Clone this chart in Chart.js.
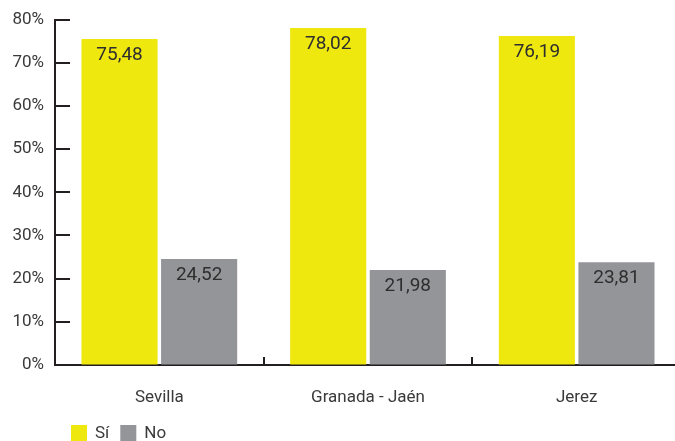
<!DOCTYPE html>
<html>
<head>
<meta charset="utf-8">
<script src="https://cdn.jsdelivr.net/npm/chart.js@4/dist/chart.umd.min.js"></script>
<style>
  html, body { margin: 0; padding: 0; background: #fff; overflow: hidden; width: 675px; height: 441px; }
  #wrap { position: relative; width: 681px; height: 441px; }
</style>
</head>
<body>
<div id="wrap"><canvas id="c"></canvas></div>
<script>
// Survey answers by centre (percent)
const categories = ['Sevilla', 'Granada - Jaén', 'Jerez'];
const seriesNames = ['Sí', 'No'];
const siValues = [75.48, 78.02, 76.19];
const noValues = [24.52, 21.98, 23.81];
const yTicks = [0, 10, 20, 30, 40, 50, 60, 70, 80];

const FONT = "Roboto, 'Liberation Sans', sans-serif";
const WEIGHT = 400;
const TEXT = '#3a3a3a';
const AXIS = '#231f20';
const YELLOW = '#efe80e';
const GREY = '#939598';

// Inward tick marks on both axes
const axisTicks = {
  id: 'axisTicks',
  afterDraw(chart) {
    const { ctx, scales: { x, y } } = chart;
    ctx.save();
    ctx.strokeStyle = AXIS;
    ctx.lineWidth = 2;
    ctx.beginPath();
    yTicks.forEach(v => {
      const py = Math.round(y.getPixelForValue(v));
      ctx.moveTo(x.left, py);
      ctx.lineTo(x.left + 15, py);
    });
    const half = (x.getPixelForValue(1) - x.getPixelForValue(0)) / 2;
    for (let i = 1; i <= categories.length; i++) {
      const px = Math.round(x.getPixelForValue(i) - half);
      ctx.moveTo(px, y.bottom);
      ctx.lineTo(px, y.bottom - 8);
    }
    ctx.stroke();
    ctx.restore();
  }
};

// Value printed inside the top of each bar
const barValues = {
  id: 'barValues',
  afterDatasetsDraw(chart) {
    const { ctx } = chart;
    ctx.save();
    ctx.font = WEIGHT + ' 19px ' + FONT;
    ctx.fillStyle = '#2e2e2e';
    ctx.textAlign = 'center';
    ctx.textBaseline = 'middle';
    chart.data.datasets.forEach((ds, di) => {
      chart.getDatasetMeta(di).data.forEach((bar, i) => {
        const txt = ds.data[i].toFixed(2).replace('.', ',');
        ctx.fillText(txt, bar.x, bar.y + 16);
      });
    });
    ctx.restore();
  }
};

// Legend below the axis labels
const bottomLegend = {
  id: 'bottomLegend',
  afterDraw(chart) {
    const { ctx } = chart;
    ctx.save();
    ctx.font = WEIGHT + ' 17px ' + FONT;
    ctx.textBaseline = 'middle';
    let cx = 71;
    const top = 425, size = 16;
    chart.data.datasets.forEach(ds => {
      ctx.fillStyle = ds.backgroundColor;
      ctx.fillRect(cx, top, size, size);
      ctx.fillStyle = TEXT;
      ctx.fillText(ds.label, cx + size + 8, top + size / 2 + 1);
      cx += size + 8 + ctx.measureText(ds.label).width + 11;
    });
    ctx.restore();
  }
};

new Chart(document.getElementById('c'), {
  type: 'bar',
  data: {
    labels: categories,
    datasets: [
      { label: seriesNames[0], data: siValues, backgroundColor: YELLOW },
      { label: seriesNames[1], data: noValues, backgroundColor: GREY }
    ]
  },
  options: {
    responsive: true,
    maintainAspectRatio: false,
    animation: false,
    devicePixelRatio: 1,
    layout: { padding: { top: 12, right: 0, left: 0, bottom: 0 } },
    categoryPercentage: 0.763,
    barPercentage: 0.956,
    plugins: {
      legend: { display: false },
      tooltip: { enabled: false }
    },
    scales: {
      x: {
        grid: { display: true, drawOnChartArea: false, drawTicks: false },
        border: { display: true, color: AXIS, width: 2 },
        ticks: { color: TEXT, font: { family: FONT, size: 17, weight: WEIGHT }, padding: 23, maxRotation: 0 },
        afterFit(scale) { scale.height = 76; }
      },
      y: {
        min: 0,
        max: 80,
        grid: { display: true, drawOnChartArea: false, drawTicks: false },
        border: { display: true, color: AXIS, width: 2 },
        ticks: {
          stepSize: 10,
          color: TEXT,
          font: { family: FONT, size: 17, weight: WEIGHT, lineHeight: 1 },
          padding: 11,
          callback: v => v + '%'
        },
        afterFit(scale) { scale.width = 55; }
      }
    }
  },
  plugins: [axisTicks, barValues, bottomLegend]
});
</script>
</body>
</html>
